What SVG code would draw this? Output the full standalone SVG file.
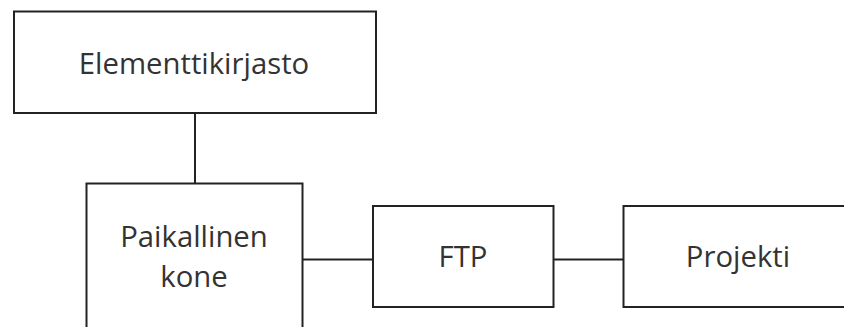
<svg xmlns="http://www.w3.org/2000/svg" width="844" height="327" viewBox="0 0 844 327">
<style>
.box{fill:#fff;stroke:#222;stroke-width:2}
.lbl{font-family:"Open Sans",sans-serif;font-size:29.3px;fill:#333;text-anchor:middle}
.conn{stroke:#222;stroke-width:2;fill:none}
</style>
<rect width="844" height="327" fill="#fff"/>
<g id="connectors">
<line class="conn" x1="195" y1="113" x2="195" y2="183.5"/>
<line class="conn" x1="302.5" y1="259.5" x2="373" y2="259.5"/>
<line class="conn" x1="553.5" y1="259.5" x2="623.5" y2="259.5"/>
</g>
<g id="elementtikirjasto">
<rect class="box" x="14" y="11.5" width="362" height="101.5"/>
<text class="lbl" x="194" y="74">Elementtikirjasto</text>
</g>
<g id="paikallinen">
<rect class="box" x="86.5" y="183.5" width="216" height="160"/>
<text class="lbl" x="194" y="247">Paikallinen</text>
<text class="lbl" x="194" y="287">kone</text>
</g>
<g id="ftp">
<rect class="box" x="373" y="206" width="180.5" height="101"/>
<text class="lbl" x="463" y="267">FTP</text>
</g>
<g id="projekti">
<rect class="box" x="623.5" y="206" width="240" height="101"/>
<text class="lbl" x="738" y="267">Projekti</text>
</g>
</svg>
